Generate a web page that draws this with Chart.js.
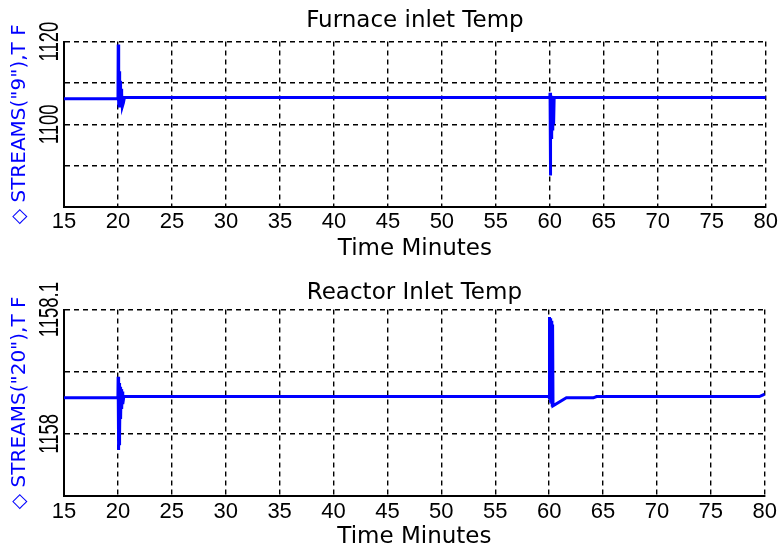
<!DOCTYPE html>
<html>
<head>
<meta charset="utf-8">
<script src="https://cdn.jsdelivr.net/npm/chart.js@4.4.0/dist/chart.umd.min.js"></script>
<style>
  html, body { margin: 0; padding: 0; background: #fff; overflow: hidden; }
  #page { position: relative; width: 780px; height: 548px; overflow: hidden; }
  .box { position: absolute; left: 0; width: 780px; }
  #top { top: 0; height: 270px; }
  #bottom { top: 270px; height: 284px; }
</style>
</head>
<body>
<div id="page">
  <div class="box" id="top"><canvas id="furnace"></canvas></div>
  <div class="box" id="bottom"><canvas id="reactor"></canvas></div>
</div>
<script>
// time axis (minutes)
const timeTicks = [15, 20, 25, 30, 35, 40, 45, 50, 55, 60, 65, 70, 75, 80];

// STREAMS("9") temperature, furnace inlet
const furnaceTime = [15, 20.0, 20.02, 20.05, 20.08, 20.11, 20.14, 20.17, 20.2, 20.24, 20.28, 20.32, 20.36, 20.4, 20.5, 20.6,
  60.0, 60.02, 60.05, 60.08, 60.11, 60.15, 60.19, 60.23, 60.27, 60.31, 60.35, 60.4, 80];
const furnaceTemp = [1106.2, 1106.2, 1119.3, 1104.6, 1113.2, 1104.4, 1112.8, 1104.8, 1110.5, 1105.0, 1108.6, 1105.3, 1107.4, 1104.3, 1105.2, 1106.5,
  1106.5, 1107.6, 1087.6, 1107.2, 1096.8, 1106.9, 1097.5, 1106.8, 1098.5, 1106.7, 1100.0, 1106.5, 1106.5];
const furnaceTicks = [1080, 1090, 1100, 1110, 1120];
const furnaceLabels = [1100, 1120];

// STREAMS("20") temperature, reactor inlet
const reactorTime = [15, 20.0, 20.02, 20.05, 20.08, 20.11, 20.14, 20.17, 20.21, 20.25, 20.3, 20.35, 20.4, 20.45, 20.55,
  60.0, 60.02, 60.05, 60.08, 60.11, 60.14, 60.17, 60.2, 60.23, 60.26, 60.29, 60.32, 60.36, 61.6, 64.1, 64.4, 79.5, 80];
const reactorTemp = [1158.029, 1158.029, 1158.046, 1157.987, 1158.044, 1157.992, 1158.041, 1158.000, 1158.038, 1158.012, 1158.036, 1158.020, 1158.034, 1158.024, 1158.030,
  1158.030, 1158.094, 1158.028, 1158.093, 1158.026, 1158.092, 1158.025, 1158.091, 1158.024, 1158.090, 1158.023, 1158.088, 1158.0226, 1158.029, 1158.029, 1158.030, 1158.030, 1158.032];
const reactorTicks = [1157.95, 1158, 1158.05, 1158.1];
const reactorLabels = [1158, 1158.1];

Chart.defaults.font.family = '"Liberation Sans", Arial, sans-serif';
Chart.defaults.color = '#000';

// y tick labels are written sideways, like the axis title
const sideLabels = {
  id: 'sideLabels',
  afterDraw(chart, args, opts) {
    const ctx = chart.ctx;
    const y = chart.scales.y;
    ctx.save();
    ctx.fillStyle = '#000';
    ctx.font = '28px "Liberation Sans", Arial, sans-serif';
    ctx.textAlign = 'center';
    ctx.textBaseline = 'middle';
    opts.values.forEach(v => {
      ctx.save();
      ctx.translate(opts.x, y.getPixelForValue(v));
      ctx.rotate(-Math.PI / 2);
      ctx.scale(0.66, 1);
      ctx.fillText(String(v), 0, 0);
      ctx.restore();
    });
    ctx.restore();
  }
};

function makeChart(id, cfg) {
  const points = cfg.time.map((t, i) => ({ x: t, y: cfg.temp[i] }));
  return new Chart(document.getElementById(id), {
    type: 'line',
    data: {
      datasets: [{
        data: points,
        borderColor: '#0000ff',
        borderWidth: 3,
        pointRadius: 0,
        tension: 0,
        fill: false
      }]
    },
    plugins: [sideLabels],
    options: {
      responsive: true,
      maintainAspectRatio: false,
      animation: false,
      layout: { padding: { left: 0, right: 13, top: 0, bottom: 0 } },
      plugins: {
        legend: { display: false },
        tooltip: { enabled: false },
        title: {
          display: true,
          text: cfg.title,
          fullSize: false,
          color: '#000',
          font: { family: '"DejaVu Sans", sans-serif', size: 23, weight: 'normal' },
          padding: cfg.titlePad
        },
        sideLabels: { values: cfg.labels, x: 50 }
      },
      scales: {
        x: {
          type: 'linear',
          min: 15,
          max: 80,
          afterBuildTicks: s => { s.ticks = timeTicks.map(v => ({ value: v })); },
          afterFit: s => { s.height = cfg.xHeight; },
          grid: { color: '#000', lineWidth: 1.4, drawTicks: false },
          border: { display: true, color: '#000', width: 2, dash: [5, 4] },
          ticks: {
            maxRotation: 0,
            autoSkip: false,
            padding: cfg.tickPad,
            font: { size: 22 },
            color: '#000'
          },
          title: {
            display: true,
            text: 'Time Minutes',
            color: '#000',
            font: { family: '"DejaVu Sans", sans-serif', size: 23 },
            padding: { top: 0, bottom: cfg.xTitlePad }
          }
        },
        y: {
          min: cfg.yMin,
          max: cfg.yMax,
          afterBuildTicks: s => { s.ticks = cfg.ticks.map(v => ({ value: v })); },
          afterFit: s => { s.width = 64; },
          grid: { color: '#000', lineWidth: 1.4, drawTicks: false },
          border: { display: true, color: '#000', width: 2, dash: [5, 4] },
          ticks: { display: false },
          title: {
            display: true,
            text: cfg.yTitle,
            color: '#0000ff',
            font: { family: '"DejaVu Sans", sans-serif', size: 20 },
            padding: { top: 8, bottom: 0 }
          }
        }
      }
    }
  });
}

makeChart('furnace', {
  title: 'Furnace inlet Temp',
  titlePad: { top: 7, bottom: 7 },
  time: furnaceTime,
  temp: furnaceTemp,
  ticks: furnaceTicks,
  labels: furnaceLabels,
  yMin: 1080,
  yMax: 1120,
  yTitle: '\u25C7 STREAMS("9"),T F',
  xHeight: 63,
  tickPad: 2,
  xTitlePad: 7
});

makeChart('reactor', {
  title: 'Reactor Inlet Temp',
  titlePad: { top: 9, bottom: 3 },
  time: reactorTime,
  temp: reactorTemp,
  ticks: reactorTicks,
  labels: reactorLabels,
  yMin: 1157.95,
  yMax: 1158.1,
  yTitle: '\u25C7 STREAMS("20"),T F',
  xHeight: 58,
  tickPad: 3,
  xTitlePad: 3
});
</script>
</body>
</html>
